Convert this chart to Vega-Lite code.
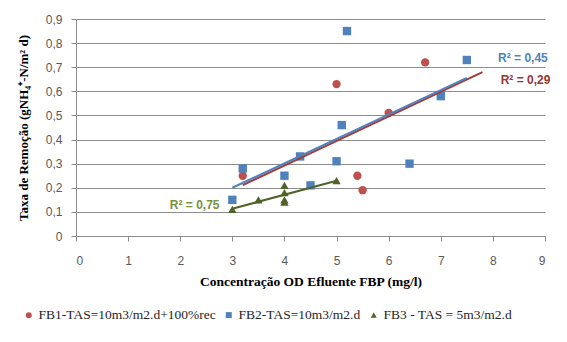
{
  "$schema": "https://vega.github.io/schema/vega-lite/v6.json",
  "width": 469,
  "height": 217,
  "autosize": "none",
  "padding": {"left": 76, "top": 19, "right": 22, "bottom": 106},
  "background": "white",
  "config": {"view": {"stroke": null}, "font": "Liberation Sans"},
  "datasets": {
    "pts": [
      {"series": "FB1-TAS=10m3/m2.d+100%rec", "x": 3.2, "y": 0.25},
      {"series": "FB1-TAS=10m3/m2.d+100%rec", "x": 5.0, "y": 0.63},
      {"series": "FB1-TAS=10m3/m2.d+100%rec", "x": 6.0, "y": 0.51},
      {"series": "FB1-TAS=10m3/m2.d+100%rec", "x": 6.7, "y": 0.72},
      {"series": "FB1-TAS=10m3/m2.d+100%rec", "x": 5.4, "y": 0.25},
      {"series": "FB1-TAS=10m3/m2.d+100%rec", "x": 5.5, "y": 0.19},
      {"series": "FB2-TAS=10m3/m2.d", "x": 3.0, "y": 0.15},
      {"series": "FB2-TAS=10m3/m2.d", "x": 3.2, "y": 0.28},
      {"series": "FB2-TAS=10m3/m2.d", "x": 4.0, "y": 0.25},
      {"series": "FB2-TAS=10m3/m2.d", "x": 4.3, "y": 0.33},
      {"series": "FB2-TAS=10m3/m2.d", "x": 4.5, "y": 0.21},
      {"series": "FB2-TAS=10m3/m2.d", "x": 5.0, "y": 0.31},
      {"series": "FB2-TAS=10m3/m2.d", "x": 5.1, "y": 0.46},
      {"series": "FB2-TAS=10m3/m2.d", "x": 5.2, "y": 0.85},
      {"series": "FB2-TAS=10m3/m2.d", "x": 6.4, "y": 0.30},
      {"series": "FB2-TAS=10m3/m2.d", "x": 7.0, "y": 0.58},
      {"series": "FB2-TAS=10m3/m2.d", "x": 7.5, "y": 0.73},
      {"series": "FB3 - TAS = 5m3/m2.d", "x": 3.0, "y": 0.11},
      {"series": "FB3 - TAS = 5m3/m2.d", "x": 3.5, "y": 0.15},
      {"series": "FB3 - TAS = 5m3/m2.d", "x": 4.0, "y": 0.21},
      {"series": "FB3 - TAS = 5m3/m2.d", "x": 4.0, "y": 0.18},
      {"series": "FB3 - TAS = 5m3/m2.d", "x": 4.0, "y": 0.15},
      {"series": "FB3 - TAS = 5m3/m2.d", "x": 4.0, "y": 0.14},
      {"series": "FB3 - TAS = 5m3/m2.d", "x": 5.0, "y": 0.23}
    ],
    "labels": [
      {"series": "FB2", "x": 8.1, "y": 0.74, "text": "R² = 0,45"},
      {"series": "FB1", "x": 8.15, "y": 0.645, "text": "R² = 0,29"},
      {"series": "FB3", "x": 1.8, "y": 0.13, "text": "R² = 0,75"}
    ]
  },
  "encoding": {
    "x": {
      "field": "x", "type": "quantitative",
      "scale": {"domain": [0, 9], "nice": false, "zero": false},
      "axis": {
        "values": [0, 1, 2, 3, 4, 5, 6, 7, 8, 9],
        "grid": false, "tickSize": 5, "domainColor": "#8c8c8c", "tickColor": "#8c8c8c",
        "labelColor": "#595959", "labelFont": "Liberation Sans", "labelFontSize": 12,
        "labelPadding": 14,
        "title": "Concentração OD Efluente FBP (mg/l)",
        "titleFont": "Liberation Serif", "titleFontSize": 13.5, "titleFontWeight": "bold",
        "titleColor": "#000000", "titlePadding": 8
      }
    },
    "y": {
      "field": "y", "type": "quantitative",
      "scale": {"domain": [0, 0.9], "nice": false},
      "axis": {
        "values": [0, 0.1, 0.2, 0.3, 0.4, 0.5, 0.6, 0.7, 0.8, 0.9],
        "labelExpr": "datum.value == 0 ? '0' : replace(format(datum.value, '.1f'), '.', ',')",
        "labelOverlap": false,
        "grid": true, "gridColor": "#8c8c8c", "tickSize": 5,
        "domainColor": "#8c8c8c", "tickColor": "#8c8c8c",
        "labelColor": "#595959", "labelFont": "Liberation Sans", "labelFontSize": 12,
        "labelPadding": 9,
        "title": "Taxa de Remoção (gNH₄⁺-N/m² d)",
        "titleFont": "Liberation Serif", "titleFontSize": 13, "titleFontWeight": "bold",
        "titleColor": "#000000", "titlePadding": 15
      }
    }
  },
  "layer": [
    {
      "data": {"name": "pts"},
      "mark": {"type": "point", "filled": true, "opacity": 1, "size": 70},
      "encoding": {
        "color": {
          "field": "series", "type": "nominal",
          "scale": {
            "domain": ["FB1-TAS=10m3/m2.d+100%rec", "FB2-TAS=10m3/m2.d", "FB3 - TAS = 5m3/m2.d"],
            "range": ["#C0504D", "#4F81BD", "#4F6228"]
          },
          "legend": {
            "orient": "none", "direction": "horizontal", "columns": 3,
            "legendX": -54, "legendY": 289, "title": null,
            "labelFont": "Liberation Serif", "labelFontSize": 13.5, "labelColor": "#262626",
            "labelLimit": 0,
            "symbolSize": 36, "labelOffset": 3, "columnPadding": 6
          }
        },
        "shape": {
          "field": "series", "type": "nominal",
          "scale": {
            "domain": ["FB1-TAS=10m3/m2.d+100%rec", "FB2-TAS=10m3/m2.d", "FB3 - TAS = 5m3/m2.d"],
            "range": ["circle", "square", "triangle-up"]
          },
          "legend": null
        }
      }
    },
    {
      "data": {"name": "pts"},
      "transform": [
        {"filter": "datum.series == 'FB1-TAS=10m3/m2.d+100%rec'"},
        {"regression": "y", "on": "x", "extent": [3.2, 7.8]}
      ],
      "mark": {"type": "line", "color": "#A33B38", "strokeWidth": 2},
      "encoding": {}
    },
    {
      "data": {"name": "pts"},
      "transform": [
        {"filter": "datum.series == 'FB2-TAS=10m3/m2.d'"},
        {"regression": "y", "on": "x"}
      ],
      "mark": {"type": "line", "color": "#4F81BD", "strokeWidth": 2},
      "encoding": {}
    },
    {
      "data": {"name": "pts"},
      "transform": [
        {"filter": "datum.series == 'FB3 - TAS = 5m3/m2.d'"},
        {"regression": "y", "on": "x"}
      ],
      "mark": {"type": "line", "color": "#4F6228", "strokeWidth": 2},
      "encoding": {}
    },
    {
      "data": {"name": "labels"},
      "transform": [{"filter": "datum.series == 'FB2'"}],
      "mark": {"type": "text", "align": "left", "baseline": "middle", "font": "Liberation Sans", "fontWeight": "bold", "fontSize": 12, "color": "#4F81BD"},
      "encoding": {"text": {"field": "text"}}
    },
    {
      "data": {"name": "labels"},
      "transform": [{"filter": "datum.series == 'FB1'"}],
      "mark": {"type": "text", "align": "left", "baseline": "middle", "font": "Liberation Sans", "fontWeight": "bold", "fontSize": 12, "color": "#953735"},
      "encoding": {"text": {"field": "text"}}
    },
    {
      "data": {"name": "labels"},
      "transform": [{"filter": "datum.series == 'FB3'"}],
      "mark": {"type": "text", "align": "left", "baseline": "middle", "font": "Liberation Sans", "fontWeight": "bold", "fontSize": 12, "color": "#77933C"},
      "encoding": {"text": {"field": "text"}}
    }
  ]
}
